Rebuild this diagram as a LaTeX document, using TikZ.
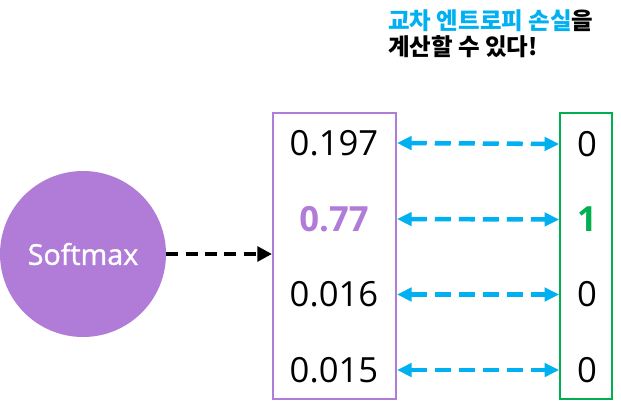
\documentclass[tikz,border=0pt]{standalone}
\usepackage{fontspec}
\setmainfont{Open Sans}
\newfontfamily\krfont{Noto Sans CJK KR}
\usepackage{tikz}
\usetikzlibrary{arrows.meta, positioning, shapes}
\definecolor{softpurple}{RGB}{176,124,216}
\definecolor{crossblue}{RGB}{0,176,240}
\definecolor{labelgreen}{RGB}{0,176,80}

\begin{document}
\begin{tikzpicture}[x=0.75pt, y=-0.75pt,
	value/.style={font=\fontsize{26}{30}\selectfont, inner sep=0pt},
	colbox/.style={draw, line width=1.5pt, minimum height=214.5pt, inner sep=0pt},
	crossarrow/.style={crossblue, line width=3.4pt, dash pattern=on 12pt off 6pt,
		{Triangle[length=11pt, width=10pt]}-{Triangle[length=11pt, width=10pt]}}]

\useasboundingbox (0,0) rectangle (621,415);

% title
\node[anchor=north west, align=left, inner sep=0pt,
	font=\krfont\bfseries\fontsize{17.6}{19.5}\selectfont] (title) at (388,9)
	{{\color{crossblue}교차 엔트로피 손실}을\\계산할 수 있다!};

% softmax circle
\node[circle, fill=softpurple, minimum size=124.5pt, inner sep=0pt, text=white,
	font=\fontsize{21.5}{25}\selectfont\addfontfeature{FakeBold=1.2}] (softmax) at (83,254) {Softmax};

% boxes
\node[colbox, softpurple, minimum width=92.25pt] (prob) at (334.5,256.3) {};
\node[colbox, labelgreen, minimum width=39pt] (label) at (586.2,256.3) {};

% predicted values
\node[value] (p1) at (334,143) {0.197};
\node[value, softpurple, font=\bfseries\fontsize{26}{30}\selectfont] (p2) at (334,219) {0.77};
\node[value] (p3) at (334,294.5) {0.016};
\node[value] (p4) at (334,370) {0.015};

% one-hot labels
\node[value] (t1) at (587,144) {0};
\node[value, labelgreen, font=\bfseries\fontsize{26}{30}\selectfont] (t2) at (587,219.5) {1};
\node[value] (t3) at (587,294.5) {0};
\node[value] (t4) at (587,370) {0};

\draw[line width=3.4pt, dash pattern=on 9pt off 5.5pt, -{Triangle[length=11pt, width=11pt]}]
	(softmax.east) -- (prob.west |- softmax.east);

\foreach \i in {1, 2, 3, 4} {
	\draw[crossarrow] (prob.east |- p\i) -- (label.west |- t\i); % cross arrows
}

\end{tikzpicture}
\end{document}
